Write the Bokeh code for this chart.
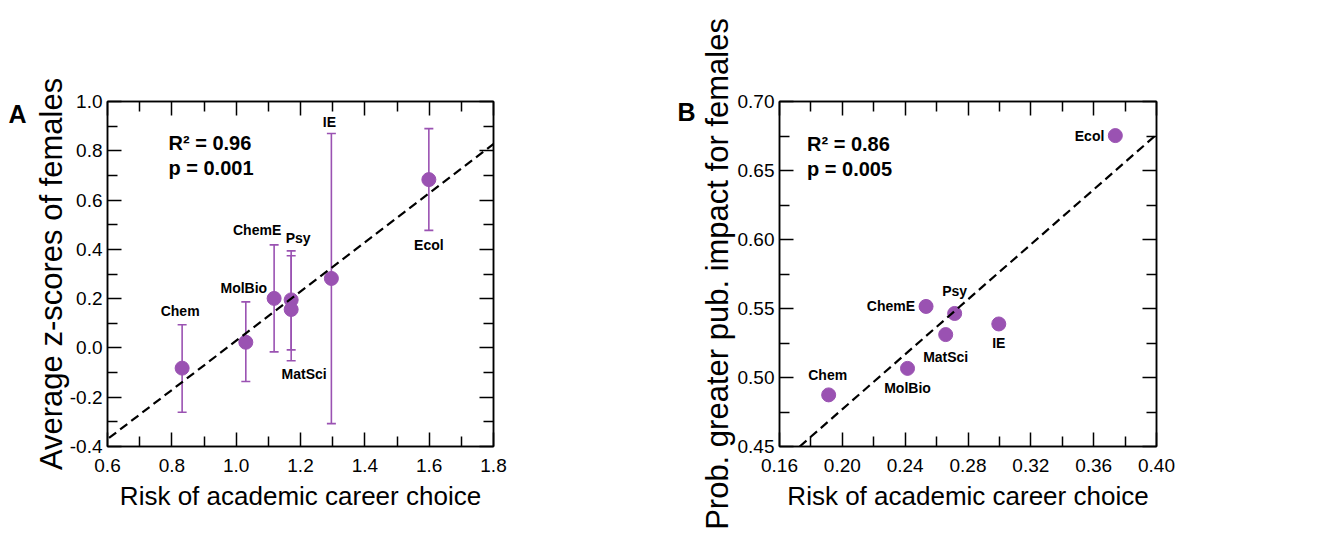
from bokeh.plotting import figure
from bokeh.models import (ColumnDataSource, Whisker, TeeHead, Slope, Label,
                          LinearAxis, FixedTicker, Range1d)
from bokeh.layouts import row
from bokeh.embed import file_html
from bokeh.resources import INLINE
from bokeh.core.properties import value

# ---------------- data ----------------
fields = ["Chem", "MolBio", "ChemE", "Psy", "MatSci", "IE", "Ecol"]

# Panel A: risk vs average z-score of females (with error bars)
a_risk = [0.832, 1.030, 1.118, 1.171, 1.171, 1.296, 1.599]
a_zscore = [-0.082, 0.023, 0.201, 0.195, 0.156, 0.282, 0.683]
a_upper = [0.094, 0.187, 0.418, 0.394, 0.374, 0.870, 0.890]
a_lower = [-0.261, -0.136, -0.016, -0.008, -0.052, -0.307, 0.477]

# Panel B: risk vs prob. of greater pub. impact for females
b_risk = [0.1913, 0.2415, 0.2533, 0.2715, 0.2658, 0.2996, 0.3738]
b_prob = [0.4874, 0.5066, 0.5515, 0.5464, 0.5311, 0.5388, 0.6753]

# regression lines
a_fit_slope, a_fit_intercept = 0.998, -0.969
b_fit_slope, b_fit_intercept = 0.995, 0.278

a_stats = ["R\u00b2 = 0.96", "p = 0.001"]
b_stats = ["R\u00b2 = 0.86", "p = 0.005"]

# ticks
a_x_ticks = [0.6, 0.8, 1.0, 1.2, 1.4, 1.6, 1.8]
a_x_labels = ["0.6", "0.8", "1.0", "1.2", "1.4", "1.6", "1.8"]
a_x_minor = [0.7, 0.9, 1.1, 1.3, 1.5, 1.7]
a_y_ticks = [-0.4, -0.2, 0.0, 0.2, 0.4, 0.6, 0.8, 1.0]
a_y_labels = ["-0.4", "-0.2", "0.0", "0.2", "0.4", "0.6", "0.8", "1.0"]
a_y_minor = [-0.3, -0.1, 0.1, 0.3, 0.5, 0.7, 0.9]

b_x_ticks = [0.16, 0.20, 0.24, 0.28, 0.32, 0.36, 0.40]
b_x_labels = ["0.16", "0.20", "0.24", "0.28", "0.32", "0.36", "0.40"]
b_x_minor = [0.18, 0.22, 0.26, 0.30, 0.34, 0.38]
b_y_ticks = [0.45, 0.50, 0.55, 0.60, 0.65, 0.70]
b_y_labels = ["0.45", "0.50", "0.55", "0.60", "0.65", "0.70"]
b_y_minor = [0.475, 0.525, 0.575, 0.625, 0.675]

# label placement (pixels, relative to the point)
a_lab_dx = [-2, -2, -17, 7, 13, -2, 0]
a_lab_dy = [-57, -54, -68, -62, 65, -156, 65]
a_lab_align = ["center"] * 7
b_lab_dx = [-1, 0, -11, 0, 0, 0, -11]
b_lab_dy = [-20, 20, 0, -22, 22, 19, 0]
b_lab_align = ["center", "center", "right", "center", "center", "center", "right"]

# ---------------- style ----------------
PURPLE = "#9A52B2"
FONT = "Liberation Sans"
H = 533
FRAME_TOP, FRAME_BOTTOM = 101, 446   # frames are aligned across the row


def style_axes(p, xt, xl, xm, yt, yl, ym, xlabel, ylabel, ylab_standoff):
    xtick = FixedTicker(ticks=xt, minor_ticks=xm)
    ytick = FixedTicker(ticks=yt, minor_ticks=ym)
    p.xaxis.ticker = xtick
    p.yaxis.ticker = ytick
    p.xaxis.major_label_overrides = dict(zip(xt, xl))
    p.yaxis.major_label_overrides = dict(zip(yt, yl))
    for ax in (p.xaxis[0], p.yaxis[0]):
        ax.major_tick_in = 14
        ax.major_tick_out = 0
        ax.minor_tick_in = 10
        ax.minor_tick_out = 0
        ax.axis_line_width = 1.5
        ax.major_tick_line_width = 1.5
        ax.minor_tick_line_width = 1.5
        ax.axis_line_color = "black"
        ax.major_tick_line_color = "black"
        ax.minor_tick_line_color = "black"
        ax.major_label_text_font = FONT
        ax.major_label_text_font_size = "19px"
        ax.major_label_text_color = "black"
        ax.axis_label_text_font = FONT
        ax.axis_label_text_font_style = "normal"
        ax.axis_label_text_color = "black"
    p.xaxis.axis_label = xlabel
    p.yaxis.axis_label = ylabel
    p.xaxis.axis_label_text_font_size = "26px"
    p.yaxis.axis_label_text_font_size = "31px"
    p.xaxis.major_label_standoff = 12
    p.yaxis.major_label_standoff = 5
    p.xaxis.axis_label_standoff = 6
    p.yaxis.axis_label_standoff = ylab_standoff
    # mirrored ticks on top and right
    for side, tk in (("above", xtick), ("right", ytick)):
        ax = LinearAxis(ticker=tk, major_tick_in=14, major_tick_out=0,
                        minor_tick_in=10, minor_tick_out=0,
                        axis_line_width=1.5, major_tick_line_width=1.5,
                        minor_tick_line_width=1.5, major_label_text_color=None,
                        major_label_standoff=0)
        p.add_layout(ax, side)
    p.xgrid.visible = False
    p.ygrid.visible = False
    p.outline_line_color = "black"
    p.outline_line_width = 1.5
    p.background_fill_color = "white"
    p.border_fill_color = "white"


def frac_pos(rng, f):
    return rng.start + f * (rng.end - rng.start)


def letter_panel(letter, w, lx, ly, align):
    """Small blank strip holding the panel letter (its frame is aligned with the plots)."""
    f = figure(width=w, height=H, output_backend="svg", toolbar_location=None,
               x_range=Range1d(0, w), y_range=Range1d(FRAME_BOTTOM, FRAME_TOP),
               x_axis_type=None, y_axis_type=None,
               min_border=0, min_border_left=0, min_border_right=0,
               min_border_top=0, min_border_bottom=0)
    f.xgrid.visible = False
    f.ygrid.visible = False
    f.outline_line_color = None
    f.background_fill_color = "white"
    f.border_fill_color = "white"
    f.add_layout(Label(x=lx, y=ly, text=letter, text_font=FONT,
                       text_font_style="bold", text_font_size="25px",
                       text_baseline="middle", text_align=align, text_color="black"))
    return f


# ---------------- panel A ----------------
let_a = letter_panel("A", 30, 17, 113, "center")

pa = figure(width=620, height=H, output_backend="svg", toolbar_location=None,
            x_range=Range1d(0.6, 1.8), y_range=Range1d(-0.4, 1.0),
            min_border_left=71, min_border_top=FRAME_TOP,
            min_border_bottom=H - FRAME_BOTTOM, min_border_right=157)
style_axes(pa, a_x_ticks, a_x_labels, a_x_minor, a_y_ticks, a_y_labels, a_y_minor,
           "Risk of academic career choice", "Average z-scores of females", -2)

src_a = ColumnDataSource(dict(x=a_risk, y=a_zscore, up=a_upper, lo=a_lower,
                              name=fields, dx=a_lab_dx, dy=a_lab_dy, al=a_lab_align))
pa.add_layout(Slope(gradient=a_fit_slope, y_intercept=a_fit_intercept,
                    line_color="black", line_width=2.2, line_dash="9 5"))
pa.add_layout(Whisker(base="x", upper="up", lower="lo", source=src_a,
                      line_color=PURPLE, line_width=1.6,
                      upper_head=TeeHead(size=9, line_color=PURPLE, line_width=1.6),
                      lower_head=TeeHead(size=9, line_color=PURPLE, line_width=1.6)))
pa.scatter(x="x", y="y", source=src_a, size=14, fill_color=PURPLE, line_color=PURPLE)
pa.text(x="x", y="y", text="name", x_offset="dx", y_offset="dy", text_align="al",
        text_baseline="middle", text_font=value(FONT), text_font_style="bold",
        text_font_size="14px", text_color="black", source=src_a)

xr, yr = pa.x_range, pa.y_range
for i, s in enumerate(a_stats):
    pa.add_layout(Label(x=frac_pos(xr, 0.158), y=frac_pos(yr, 0.88 - 0.074 * i), text=s,
                        text_font=FONT, text_font_style="bold", text_font_size="20px",
                        text_baseline="middle", text_align="left", text_color="black"))

# ---------------- panel B ----------------
let_b = letter_panel("B", 46, 45, 111, "right")

pb = figure(width=510, height=H, output_backend="svg", toolbar_location=None,
            x_range=Range1d(0.16, 0.40), y_range=Range1d(0.45, 0.70),
            min_border_left=76, min_border_top=FRAME_TOP,
            min_border_bottom=H - FRAME_BOTTOM, min_border_right=50)
style_axes(pb, b_x_ticks, b_x_labels, b_x_minor, b_y_ticks, b_y_labels, b_y_minor,
           "Risk of academic career choice", "Prob. greater pub. impact for females", 0)

src_b = ColumnDataSource(dict(x=b_risk, y=b_prob, name=fields,
                              dx=b_lab_dx, dy=b_lab_dy, al=b_lab_align))
pb.add_layout(Slope(gradient=b_fit_slope, y_intercept=b_fit_intercept,
                    line_color="black", line_width=2.2, line_dash="9 5"))
pb.scatter(x="x", y="y", source=src_b, size=14, fill_color=PURPLE, line_color=PURPLE)
pb.text(x="x", y="y", text="name", x_offset="dx", y_offset="dy", text_align="al",
        text_baseline="middle", text_font=value(FONT), text_font_style="bold",
        text_font_size="14px", text_color="black", source=src_b)

xr, yr = pb.x_range, pb.y_range
for i, s in enumerate(b_stats):
    pb.add_layout(Label(x=frac_pos(xr, 0.073), y=frac_pos(yr, 0.877 - 0.074 * i), text=s,
                        text_font=FONT, text_font_style="bold", text_font_size="20px",
                        text_baseline="middle", text_align="left", text_color="black"))

layout = row(let_a, pa, let_b, pb)
open("out.html", "w").write(file_html(layout, INLINE))
